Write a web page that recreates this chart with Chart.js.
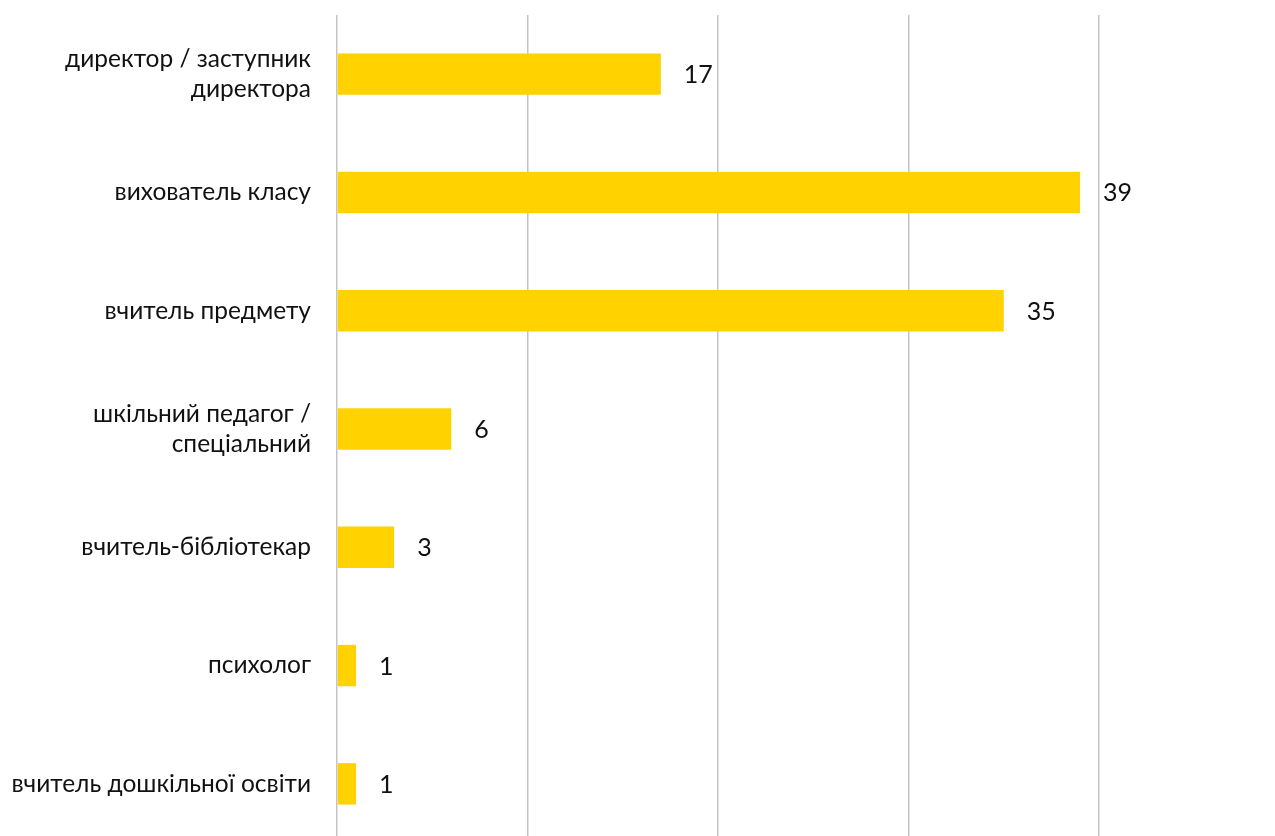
<!DOCTYPE html>
<html>
<head>
<meta charset="utf-8">
<script src="https://cdn.jsdelivr.net/npm/chart.js@4/dist/chart.umd.min.js"></script>
<style>
  html, body { margin: 0; padding: 0; background: #fff; overflow: hidden; }
  #wrap { width: 1275px; height: 850px; }
</style>
</head>
<body>
<div id="wrap"><canvas id="chart"></canvas></div>
<script>
const categories = [
  ['директор / заступник', 'директора'],
  'вихователь класу',
  'вчитель предмету',
  ['шкільний педагог /', 'спеціальний'],
  'вчитель-бібліотекар',
  'психолог',
  'вчитель дошкільної освіти'
];
const values = [17, 39, 35, 6, 3, 1, 1];
const xTicks = [0, 10, 20, 30, 40];

const fontFamily = "'Lato', 'Open Sans', sans-serif";

// числа справа від смуг
const valueLabels = {
  id: 'valueLabels',
  afterDatasetsDraw(chart) {
    const ctx = chart.ctx;
    const meta = chart.getDatasetMeta(0);
    ctx.save();
    ctx.fillStyle = '#111';
    ctx.font = `25px ${fontFamily}`;
    ctx.textAlign = 'left';
    ctx.textBaseline = 'middle';
    meta.data.forEach((bar, i) => {
      ctx.fillText(values[i], bar.x + 23, bar.y + 1);
    });
    ctx.restore();
  }
};

const ctx = document.getElementById('chart').getContext('2d');
new Chart(ctx, {
  type: 'bar',
  data: {
    labels: categories,
    datasets: [{
      data: values,
      backgroundColor: '#FFD200',
      borderWidth: 0,
      categoryPercentage: 1,
      barPercentage: 0.35
    }]
  },
  options: {
    indexAxis: 'y',
    responsive: true,
    maintainAspectRatio: false,
    animation: false,
    layout: { padding: { left: 0, right: 176, top: 15, bottom: 7 } },
    plugins: {
      legend: { display: false },
      tooltip: { enabled: false }
    },
    scales: {
      x: {
        min: 0,
        max: 40,
        afterBuildTicks: axis => { axis.ticks = xTicks.map(v => ({ value: v })); },
        afterFit: scale => {
          scale.height = 0;
          scale.paddingLeft = 0;
          scale.paddingRight = 0;
        },
        ticks: { display: false },
        grid: { color: '#c4c4c4', lineWidth: 1.5, drawTicks: false },
        border: { display: false }
      },
      y: {
        afterFit: scale => {
          scale.width = 337;
          scale.paddingTop = 0;
          scale.paddingBottom = 0;
        },
        ticks: {
          color: '#111',
          font: { size: 24.5, family: fontFamily, lineHeight: 1.25 },
          padding: 18,
          crossAlign: 'near'
        },
        grid: { display: false },
        border: { display: false }
      }
    }
  },
  plugins: [valueLabels]
});
</script>
</body>
</html>
